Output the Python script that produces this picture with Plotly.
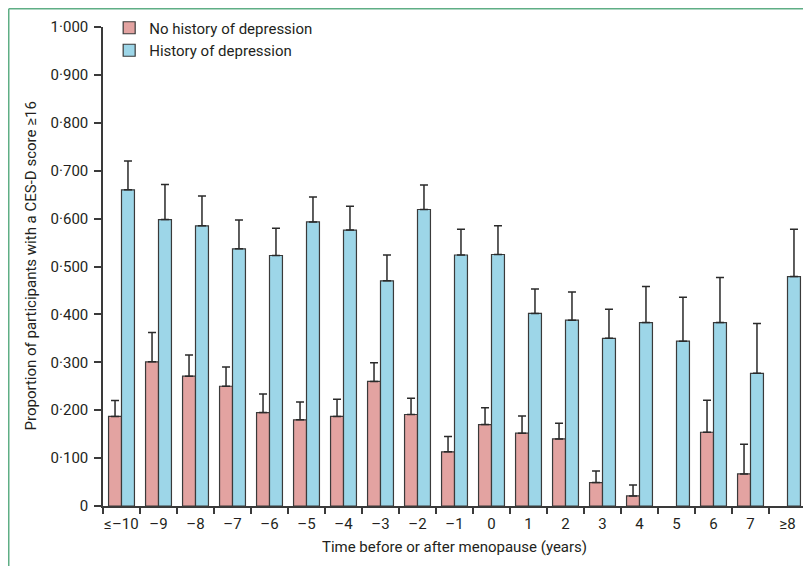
import plotly.graph_objects as go

categories = ["≤–10", "–9", "–8", "–7", "–6", "–5", "–4", "–3", "–2", "–1",
              "0", "1", "2", "3", "4", "5", "6", "7", "≥8"]
no_history = [0.187, 0.301, 0.271, 0.250, 0.195, 0.180, 0.187, 0.260, 0.191, 0.113,
              0.170, 0.152, 0.140, 0.049, 0.021, None, 0.154, 0.067, None]
no_history_upper = [0.220, 0.362, 0.315, 0.290, 0.234, 0.217, 0.223, 0.299, 0.225, 0.145,
                    0.205, 0.188, 0.173, 0.073, 0.044, None, 0.221, 0.129, None]
history = [0.660, 0.598, 0.585, 0.537, 0.523, 0.593, 0.576, 0.470, 0.619, 0.524,
           0.525, 0.402, 0.388, 0.350, 0.383, 0.344, 0.383, 0.277, 0.479]
history_upper = [0.720, 0.671, 0.647, 0.597, 0.580, 0.645, 0.626, 0.524, 0.670, 0.578,
                 0.585, 0.453, 0.447, 0.411, 0.458, 0.436, 0.477, 0.381, 0.578]
y_tickvals = [0, 0.1, 0.2, 0.3, 0.4, 0.5, 0.6, 0.7, 0.8, 0.9, 1.0]
y_ticktext = ["0", "0·100", "0·200", "0·300", "0·400", "0·500", "0·600",
              "0·700", "0·800", "0·900", "1·000"]
y_title = "Proportion of participants with a CES-D score ≥16"
x_title = "Time before or after menopause (years)"

def err(vals, upper):
    return [None if (v is None or u is None) else u - v for v, u in zip(vals, upper)]

FONT = "Roboto, sans-serif"
TXT = "#231f20"

# page has an 8px body margin: figure is 803x558 so it ends at the window edge
W, H = 803, 558
ML, MR, MT, MB = 95, 5, 19, 60
PW, PH = W - ML - MR, H - MT - MB

fig = go.Figure()
fig.add_trace(go.Bar(
    x=categories, y=no_history, name="No history of depression",
    marker=dict(color="#e3a3a1", line=dict(color="#3a3a3a", width=1.2)),
    error_y=dict(type="data", array=err(no_history, no_history_upper), symmetric=False,
                 arrayminus=[0] * len(categories), color="#2a2a2a", thickness=1.5, width=4),
))
fig.add_trace(go.Bar(
    x=categories, y=history, name="History of depression",
    marker=dict(color="#9dd6e8", line=dict(color="#3a3a3a", width=1.2)),
    error_y=dict(type="data", array=err(history, history_upper), symmetric=False,
                 arrayminus=[0] * len(categories), color="#2a2a2a", thickness=1.5, width=4),
))

gx = (0.75 - ML) / PW
gy = 1 + (MT - 0.75) / PH
fig.update_layout(
    width=W, height=H,
    margin=dict(l=ML, r=MR, t=MT, b=MB, autoexpand=False),
    paper_bgcolor="white", plot_bgcolor="white",
    barmode="group", bargap=0.3, bargroupgap=0,
    font=dict(family=FONT, size=15, color=TXT),
    legend=dict(xref="container", yref="container", x=0.126, y=0.9937,
                xanchor="left", yanchor="top",
                bgcolor="rgba(0,0,0,0)", font=dict(size=15, color=TXT),
                tracegroupgap=0, itemwidth=30),
    showlegend=True,
    shapes=[
        dict(type="line", xref="paper", yref="paper",
             x0=gx, x1=1 + MR / PW, y0=gy, y1=gy,
             line=dict(color="#5fae85", width=1.5)),
        dict(type="line", xref="paper", yref="paper",
             x0=gx, x1=gx, y0=gy, y1=-MB / PH,
             line=dict(color="#5fae85", width=1.5)),
    ],
    annotations=[
        dict(text=y_title, xref="paper", yref="paper",
             x=(22 - ML) / PW, y=0.5, xanchor="center", yanchor="middle",
             textangle=-90, showarrow=False, font=dict(size=15, color=TXT)),
    ],
)
fig.update_xaxes(
    type="category", range=[-0.5, 18.5], tickson="boundaries", tickangle=0,
    showline=True, linecolor="#3a3a3a", linewidth=1.5,
    ticks="outside", ticklen=6, tickwidth=1.5, tickcolor="#3a3a3a",
    ticklabelstandoff=3,
    showgrid=False, zeroline=False,
    tickfont=dict(size=15, color=TXT),
    title=dict(text=x_title, standoff=10, font=dict(size=15, color=TXT)),
)
fig.update_yaxes(
    range=[0, 1.0], tickvals=y_tickvals, ticktext=y_ticktext,
    showline=True, linecolor="#3a3a3a", linewidth=1.5,
    ticks="outside", ticklen=7, tickwidth=1.5, tickcolor="#3a3a3a",
    ticklabelstandoff=3,
    showgrid=False, zeroline=False,
    tickfont=dict(size=15, color=TXT),
)

fig.write_html("out.html")
